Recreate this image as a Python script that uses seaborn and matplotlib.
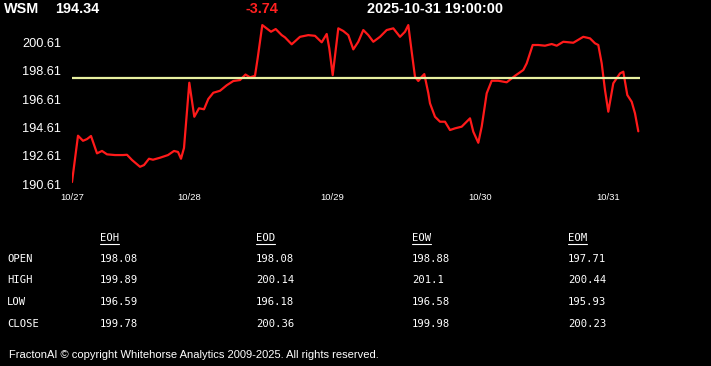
import matplotlib
matplotlib.use("Agg")
import matplotlib.pyplot as plt
from matplotlib.lines import Line2D
import seaborn as sns
import pandas as pd
import numpy as np

# ---- data ----
ticker = "WSM"
last_price = "194.34"
change = "-3.74"
timestamp = "2025-10-31 19:00:00"
ref_level = 198.08  # EOH open

t = [0, 6, 11, 15, 19, 25, 30, 35, 43, 51, 55, 60, 68, 72, 77, 81, 88, 96, 102,
     106, 109, 112, 117.3, 122.3, 127, 132, 136.3, 141.3, 148, 154.7, 161.3, 168,
     173.5, 178, 183, 185.7, 190.3, 199, 203.7, 209.7, 213, 219.7, 228, 236.3, 243,
     249.7, 254.7, 257.3, 260.7, 266.3, 271.3, 276.3, 281.3, 286.3, 291.3, 296.3,
     301.3, 308, 314.7, 321.3, 328, 333, 336.3, 339.7, 343, 346.3, 349.7, 352.3,
     356.3, 358, 363, 368, 373, 378, 383, 389.7, 398, 401.3, 406.3, 409.7, 414.7,
     419.7, 426.3, 434.7, 443, 451.3, 454.7, 460.7, 466.3, 473, 479.7, 484.7, 491.3,
     501.3, 511.3, 518, 523, 526.3, 529.7, 533, 536.3, 541.3, 548, 551.3, 555.3,
     559.7, 563, 566.3]
price = [190.75, 194.03, 193.67, 193.79, 194.01, 192.78, 192.95, 192.71, 192.66,
         192.66, 192.68, 192.31, 191.83, 191.95, 192.40, 192.33, 192.47, 192.66,
         192.95, 192.88, 192.40, 193.16, 197.78, 195.37, 195.97, 195.90, 196.63,
         197.07, 197.21, 197.60, 197.90, 197.97, 198.36, 198.16, 198.27, 199.53,
         201.86, 201.39, 201.58, 201.15, 200.99, 200.50, 201.03, 201.15, 201.10,
         200.64, 201.23, 200.21, 198.32, 201.63, 201.44, 201.15, 200.14, 200.68,
         201.51, 201.15, 200.68, 201.03, 201.51, 201.63, 201.03, 201.39, 201.86,
         199.97, 198.20, 197.90, 198.20, 198.39, 197.05, 196.32, 195.37, 195.02,
         195.02, 194.43, 194.55, 194.67, 195.26, 194.31, 193.53, 194.67, 197.03,
         197.92, 197.92, 197.81, 198.27, 198.68, 199.15, 200.45, 200.45, 200.40,
         200.52, 200.40, 200.68, 200.61, 201.03, 200.92, 200.57, 200.45, 199.15,
         197.26, 195.73, 197.74, 198.44, 198.56, 196.91, 196.43, 195.61, 194.34]

tick_pos = [0, 117.3, 260.3, 408.3, 536.3]
tick_labels = ["10/27", "10/28", "10/29", "10/30", "10/31"]
ytick_vals = [190.61, 192.61, 194.61, 196.61, 198.61, 200.61]

row_labels = ["OPEN", "HIGH", "LOW", "CLOSE"]
col_labels = ["EOH", "EOD", "EOW", "EOM"]
eoh = ["198.08", "199.89", "196.59", "199.78"]
eod = ["198.08", "200.14", "196.18", "200.36"]
eow = ["198.88", "201.1", "196.58", "199.98"]
eom = ["197.71", "200.44", "195.93", "200.23"]
table_cols = [eoh, eod, eow, eom]

footer = "FractonAI \u00a9 copyright Whitehorse Analytics 2009-2025. All rights reserved."

# ---- style ----
sns.set_style("dark", {"axes.facecolor": "black", "figure.facecolor": "black",
                       "axes.edgecolor": "black", "axes.grid": False})
plt.rcParams['font.family'] = ['Liberation Sans', 'DejaVu Sans']

W, H = 711, 366
fig = plt.figure(figsize=(W / 100, H / 100), dpi=100)
fig.patch.set_facecolor("black")

ax = fig.add_axes([72 / W, 1 - 185 / H, (640 - 72) / W, (185 - 20) / H])
ax.set_facecolor("black")

df = pd.DataFrame({"t": t, "price": price})
sns.lineplot(data=df, x="t", y="price", ax=ax, color="#ff1a1a", linewidth=1.6,
             estimator=None, sort=False)
ax.axhline(ref_level, color="#e8f0a0", linewidth=1.6)

ax.set_xlim(0, 568)
ax.set_ylim(190.54, 202.22)
ax.set_xticks(tick_pos)
ax.set_xticklabels(tick_labels)
ax.set_yticks(ytick_vals)
ax.set_yticklabels([f"{v:.2f}" for v in ytick_vals])
ax.set_xlabel("")
ax.set_ylabel("")
ax.tick_params(axis="x", colors="white", length=2.5, width=1, pad=3.5, labelsize=6.8)
ax.tick_params(axis="y", colors="white", length=0, pad=8, labelsize=9.2)
for s in ax.spines.values():
    s.set_visible(False)

# ---- header ----
hdr_font = dict(family=['Liberation Sans Narrow', 'Liberation Sans', 'DejaVu Sans'],
                fontweight="bold", fontsize=10.4, va="center")
fig.text(4 / W, 1 - 9 / H, ticker, color="white", **hdr_font)
fig.text(55 / W, 1 - 9 / H, last_price, color="white", **hdr_font)
fig.text(246 / W, 1 - 9 / H, change, color="#ff2020", **hdr_font)
fig.text(367 / W, 1 - 9 / H, timestamp, color="white", **hdr_font)

# ---- table ----
mono = dict(family=['DejaVu Sans Mono'], fontsize=7.6, color="white", va="center")
col_x = [100, 256, 412, 568]
row_y = [259, 280, 302, 324]
head_texts = []
for cx, lab in zip(col_x, col_labels):
    head_texts.append(fig.text(cx / W, 1 - 238 / H, lab, **mono))
for ry, lab in zip(row_y, row_labels):
    fig.text(7 / W, 1 - ry / H, lab, **mono)
for cx, vals in zip(col_x, table_cols):
    for ry, v in zip(row_y, vals):
        fig.text(cx / W, 1 - ry / H, v, **mono)

fig.canvas.draw()
r = fig.canvas.get_renderer()
for ht in head_texts:
    bb = ht.get_window_extent(r)
    fig.add_artist(Line2D([bb.x0 / W, bb.x1 / W], [(bb.y0 - 1) / H, (bb.y0 - 1) / H],
                          color="white", linewidth=0.8, transform=fig.transFigure))

fig.text(9 / W, 1 - 355 / H, footer, color="white",
         family=['Liberation Sans Narrow', 'Liberation Sans', 'DejaVu Sans'],
         fontsize=8.0, va="center")

fig.savefig("out.png", dpi=100, facecolor="black")
